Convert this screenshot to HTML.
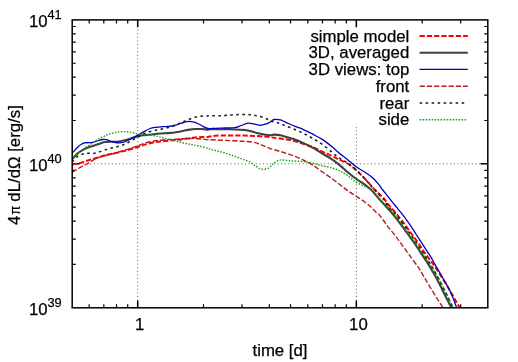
<!DOCTYPE html><html><head><meta charset="utf-8"><title>plot</title><style>
html,body{margin:0;padding:0;background:#fff;}svg{display:block;}text{font-family:"Liberation Sans",sans-serif;fill:#000;stroke:#000;stroke-width:0.25px;}
</style></head><body>
<svg width="518" height="362" viewBox="0 0 518 362">
<rect width="518" height="362" fill="#fff"/>
<defs><clipPath id="cp"><rect x="72.2" y="19.9" width="415.6" height="287.9"/></clipPath></defs>
<g stroke="#5a5a5a" stroke-width="1" stroke-dasharray="1,2.6" fill="none"><path d="M72.2,163.8 H487.8"/><path d="M137.7,307.8 V19.9"/><path d="M356.4,307.8 V127.0"/></g>
<g stroke="#000" fill="none"><path stroke-width="1.2" d="M89.19,307.8 v-3.6 M89.19,19.9 v3.6 M103.83,307.8 v-3.6 M103.83,19.9 v3.6 M116.51,307.8 v-3.6 M116.51,19.9 v3.6 M127.70,307.8 v-3.6 M127.70,19.9 v3.6 M203.52,307.8 v-3.6 M203.52,19.9 v3.6 M242.02,307.8 v-3.6 M242.02,19.9 v3.6 M269.34,307.8 v-3.6 M269.34,19.9 v3.6 M290.53,307.8 v-3.6 M290.53,19.9 v3.6 M307.84,307.8 v-3.6 M307.84,19.9 v3.6 M322.48,307.8 v-3.6 M322.48,19.9 v3.6 M335.16,307.8 v-3.6 M335.16,19.9 v3.6 M346.35,307.8 v-3.6 M346.35,19.9 v3.6 M422.17,307.8 v-3.6 M422.17,19.9 v3.6 M460.67,307.8 v-3.6 M460.67,19.9 v3.6 M72.2,264.47 h3.6 M487.8,264.47 h-3.6 M72.2,239.12 h3.6 M487.8,239.12 h-3.6 M72.2,221.13 h3.6 M487.8,221.13 h-3.6 M72.2,207.18 h3.6 M487.8,207.18 h-3.6 M72.2,195.79 h3.6 M487.8,195.79 h-3.6 M72.2,186.15 h3.6 M487.8,186.15 h-3.6 M72.2,177.80 h3.6 M487.8,177.80 h-3.6 M72.2,170.44 h3.6 M487.8,170.44 h-3.6 M72.2,120.52 h3.6 M487.8,120.52 h-3.6 M72.2,95.17 h3.6 M487.8,95.17 h-3.6 M72.2,77.18 h3.6 M487.8,77.18 h-3.6 M72.2,63.23 h3.6 M487.8,63.23 h-3.6 M72.2,51.84 h3.6 M487.8,51.84 h-3.6 M72.2,42.20 h3.6 M487.8,42.20 h-3.6 M72.2,33.85 h3.6 M487.8,33.85 h-3.6 M72.2,26.49 h3.6 M487.8,26.49 h-3.6 "/><path stroke-width="1.5" d="M137.70,307.8 v-7.4 M137.70,19.9 v7.4 M356.35,307.8 v-7.4 M356.35,19.9 v7.4 M72.2,163.85 h7.4 M487.8,163.85 h-7.4 "/></g>
<g fill="none" clip-path="url(#cp)" stroke-linejoin="round">
<path d="M72.00,164.50 C72.22,164.47 72.12,164.50 73.30,164.30 C74.48,164.10 77.12,163.80 79.10,163.30 C81.08,162.80 83.17,161.93 85.20,161.30 C87.23,160.67 89.28,160.10 91.30,159.50 C93.32,158.90 95.28,158.33 97.30,157.70 C99.32,157.07 101.37,156.28 103.40,155.70 C105.43,155.12 107.47,154.63 109.50,154.20 C111.53,153.77 113.58,153.53 115.60,153.10 C117.62,152.67 119.58,152.10 121.60,151.60 C123.62,151.10 125.67,150.65 127.70,150.10 C129.73,149.55 131.75,148.93 133.80,148.30 C135.85,147.67 138.03,146.95 140.00,146.30 C141.97,145.65 143.40,145.03 145.60,144.40 C147.80,143.77 150.67,143.00 153.20,142.50 C155.73,142.00 158.27,141.70 160.80,141.40 C163.33,141.10 165.87,140.95 168.40,140.70 C170.93,140.45 173.47,140.15 176.00,139.90 C178.53,139.65 181.08,139.50 183.60,139.20 C186.12,138.90 188.58,138.43 191.10,138.10 C193.62,137.77 195.88,137.40 198.70,137.20 C201.52,137.00 205.17,137.15 208.00,136.90 C210.83,136.65 212.82,135.93 215.70,135.70 C218.58,135.47 222.08,135.53 225.30,135.50 C228.52,135.47 231.77,135.48 235.00,135.50 C238.23,135.52 241.48,135.53 244.70,135.60 C247.92,135.67 251.08,135.75 254.30,135.90 C257.52,136.05 261.38,136.30 264.00,136.50 C266.62,136.70 268.33,136.90 270.00,137.10 C271.67,137.30 271.72,137.38 274.00,137.70 C276.28,138.02 280.48,138.47 283.70,139.00 C286.92,139.53 290.08,140.10 293.30,140.90 C296.52,141.70 299.77,142.77 303.00,143.80 C306.23,144.83 309.48,145.80 312.70,147.10 C315.92,148.40 319.08,150.12 322.30,151.60 C325.52,153.08 329.10,154.62 332.00,156.00 C334.90,157.38 337.08,158.65 339.70,159.90 C342.32,161.15 344.92,161.77 347.70,163.50 C350.48,165.23 353.50,167.72 356.40,170.30 C359.30,172.88 362.35,176.10 365.10,179.00 C367.85,181.90 370.63,185.28 372.90,187.70 C375.17,190.12 376.77,191.57 378.70,193.50 C380.63,195.43 382.83,197.38 384.50,199.30 C386.17,201.22 386.87,202.77 388.70,205.00 C390.53,207.23 393.08,209.80 395.50,212.70 C397.92,215.60 400.63,219.02 403.20,222.40 C405.77,225.78 408.32,229.45 410.90,233.00 C413.48,236.55 416.12,239.98 418.70,243.70 C421.28,247.42 423.98,251.90 426.40,255.30 C428.82,258.70 430.95,260.97 433.20,264.10 C435.45,267.23 437.68,270.65 439.90,274.10 C442.12,277.55 444.43,281.35 446.50,284.80 C448.57,288.25 450.65,291.90 452.30,294.80 C453.95,297.70 455.22,300.13 456.40,302.20 C457.58,304.27 458.73,306.07 459.40,307.20 C460.07,308.33 460.23,308.70 460.40,309.00" stroke="#ff0000" stroke-width="2.00" stroke-dasharray="5.2,2.05"/>
<path d="M72.00,159.30 C72.22,159.08 72.37,158.98 73.30,158.00 C74.23,157.02 76.13,154.68 77.60,153.40 C79.07,152.12 80.58,151.20 82.10,150.30 C83.62,149.40 84.92,148.72 86.70,148.00 C88.48,147.28 90.52,146.77 92.80,146.00 C95.08,145.23 98.38,144.07 100.40,143.40 C102.42,142.73 103.13,142.28 104.90,142.00 C106.67,141.72 109.22,141.75 111.00,141.70 C112.78,141.65 113.83,141.82 115.60,141.70 C117.37,141.58 119.58,141.38 121.60,141.00 C123.62,140.62 125.67,139.98 127.70,139.40 C129.73,138.82 131.75,138.13 133.80,137.50 C135.85,136.87 138.03,136.00 140.00,135.60 C141.97,135.20 143.40,135.33 145.60,135.10 C147.80,134.87 150.67,134.47 153.20,134.20 C155.73,133.93 158.27,133.68 160.80,133.50 C163.33,133.32 165.87,133.30 168.40,133.10 C170.93,132.90 173.47,132.68 176.00,132.30 C178.53,131.92 181.33,131.25 183.60,130.80 C185.87,130.35 187.58,129.90 189.60,129.60 C191.62,129.30 193.67,129.10 195.70,129.00 C197.73,128.90 199.75,128.90 201.80,129.00 C203.85,129.10 206.63,129.55 208.00,129.60 C209.37,129.65 208.00,129.35 210.00,129.30 C212.00,129.25 216.67,129.30 220.00,129.30 C223.33,129.30 226.67,129.23 230.00,129.30 C233.33,129.37 237.00,129.50 240.00,129.70 C243.00,129.90 245.33,130.00 248.00,130.50 C250.67,131.00 253.33,132.03 256.00,132.70 C258.67,133.37 261.67,134.07 264.00,134.50 C266.33,134.93 268.33,135.28 270.00,135.30 C271.67,135.32 272.37,134.63 274.00,134.60 C275.63,134.57 277.87,134.75 279.80,135.10 C281.73,135.45 283.35,136.05 285.60,136.70 C287.85,137.35 290.40,137.97 293.30,139.00 C296.20,140.03 299.77,141.45 303.00,142.90 C306.23,144.35 309.48,145.93 312.70,147.70 C315.92,149.47 319.08,151.57 322.30,153.50 C325.52,155.43 329.10,157.37 332.00,159.30 C334.90,161.23 337.08,162.95 339.70,165.10 C342.32,167.25 344.92,169.88 347.70,172.20 C350.48,174.52 353.50,176.90 356.40,179.00 C359.30,181.10 362.68,183.03 365.10,184.80 C367.52,186.57 368.97,187.73 370.90,189.60 C372.83,191.47 374.77,193.83 376.70,196.00 C378.63,198.17 381.15,201.10 382.50,202.60 C383.85,204.10 383.28,203.32 384.80,205.00 C386.32,206.68 389.18,209.80 391.60,212.70 C394.02,215.60 396.72,219.02 399.30,222.40 C401.88,225.78 404.52,229.45 407.10,233.00 C409.68,236.55 412.23,239.98 414.80,243.70 C417.37,247.42 420.25,251.90 422.50,255.30 C424.75,258.70 426.37,260.97 428.30,264.10 C430.23,267.23 432.17,270.65 434.10,274.10 C436.03,277.55 438.12,281.35 439.90,284.80 C441.68,288.25 443.28,291.75 444.80,294.80 C446.32,297.85 447.95,301.03 449.00,303.10 C450.05,305.17 450.60,306.22 451.10,307.20 C451.60,308.18 451.85,308.70 452.00,309.00" stroke="#404040" stroke-width="2.10"/>
<path d="M72.00,153.30 C72.22,153.07 72.37,152.90 73.30,151.90 C74.23,150.90 76.25,148.57 77.60,147.30 C78.95,146.03 80.27,145.03 81.40,144.30 C82.53,143.57 83.27,143.17 84.40,142.90 C85.53,142.63 86.80,142.80 88.20,142.70 C89.60,142.60 91.28,142.58 92.80,142.30 C94.32,142.02 95.67,141.47 97.30,141.00 C98.93,140.53 101.08,139.72 102.60,139.50 C104.12,139.28 105.00,139.40 106.40,139.70 C107.80,140.00 109.47,140.83 111.00,141.30 C112.53,141.77 114.08,142.25 115.60,142.50 C117.12,142.75 118.58,142.88 120.10,142.80 C121.62,142.72 122.93,142.63 124.70,142.00 C126.47,141.37 128.68,140.02 130.70,139.00 C132.72,137.98 135.25,136.73 136.80,135.90 C138.35,135.07 138.78,134.72 140.00,134.00 C141.22,133.28 142.42,132.52 144.10,131.60 C145.78,130.68 148.08,129.22 150.10,128.50 C152.12,127.78 154.17,127.60 156.20,127.30 C158.23,127.00 160.27,126.87 162.30,126.70 C164.33,126.53 166.38,126.50 168.40,126.30 C170.42,126.10 172.63,125.88 174.40,125.50 C176.17,125.12 177.47,124.50 179.00,124.00 C180.53,123.50 181.95,122.93 183.60,122.50 C185.25,122.07 187.13,121.45 188.90,121.40 C190.67,121.35 192.57,121.77 194.20,122.20 C195.83,122.63 197.18,123.27 198.70,124.00 C200.22,124.73 201.75,125.85 203.30,126.60 C204.85,127.35 206.55,128.18 208.00,128.50 C209.45,128.82 210.00,128.57 212.00,128.50 C214.00,128.43 217.83,128.18 220.00,128.10 C222.17,128.02 222.48,128.07 225.00,128.00 C227.52,127.93 232.40,128.12 235.10,127.70 C237.80,127.28 239.05,126.25 241.20,125.50 C243.35,124.75 246.20,123.52 248.00,123.20 C249.80,122.88 250.53,123.37 252.00,123.60 C253.47,123.83 255.33,124.32 256.80,124.60 C258.27,124.88 259.35,125.37 260.80,125.30 C262.25,125.23 264.03,124.70 265.50,124.20 C266.97,123.70 268.13,123.08 269.60,122.30 C271.07,121.52 272.50,119.90 274.30,119.50 C276.10,119.10 278.48,119.43 280.40,119.90 C282.32,120.37 283.37,121.22 285.80,122.30 C288.23,123.38 292.13,125.23 295.00,126.40 C297.87,127.57 300.05,128.00 303.00,129.30 C305.95,130.60 309.48,132.52 312.70,134.20 C315.92,135.88 319.08,137.32 322.30,139.40 C325.52,141.48 329.10,144.35 332.00,146.70 C334.90,149.05 337.08,151.33 339.70,153.50 C342.32,155.67 344.92,157.45 347.70,159.70 C350.48,161.95 353.50,164.92 356.40,167.00 C359.30,169.08 362.35,170.37 365.10,172.20 C367.85,174.03 370.63,175.97 372.90,178.00 C375.17,180.03 377.05,182.40 378.70,184.40 C380.35,186.40 381.20,187.92 382.80,190.00 C384.40,192.08 386.47,194.60 388.30,196.90 C390.13,199.20 391.97,201.50 393.80,203.80 C395.63,206.10 397.45,208.40 399.30,210.70 C401.15,213.00 403.05,215.15 404.90,217.60 C406.75,220.05 408.57,222.67 410.40,225.40 C412.23,228.13 414.40,231.67 415.90,234.00 C417.40,236.33 418.30,237.72 419.40,239.40 C420.50,241.08 420.68,241.30 422.50,244.10 C424.32,246.90 428.23,252.85 430.30,256.20 C432.37,259.55 433.03,260.95 434.90,264.20 C436.77,267.45 439.30,271.85 441.50,275.70 C443.70,279.55 446.17,283.57 448.10,287.30 C450.03,291.03 451.72,294.78 453.10,298.10 C454.48,301.42 455.73,305.38 456.40,307.20 C457.07,309.02 456.98,308.70 457.10,309.00" stroke="#0000c0" stroke-width="1.30"/>
<path d="M72.00,172.20 C72.22,172.10 72.37,172.15 73.30,171.60 C74.23,171.05 76.13,169.78 77.60,168.90 C79.07,168.02 80.58,167.12 82.10,166.30 C83.62,165.48 85.17,164.83 86.70,164.00 C88.23,163.17 89.78,162.18 91.30,161.30 C92.82,160.42 94.28,159.43 95.80,158.70 C97.32,157.97 98.88,157.40 100.40,156.90 C101.92,156.40 103.13,156.15 104.90,155.70 C106.67,155.25 109.22,154.65 111.00,154.20 C112.78,153.75 113.83,153.50 115.60,153.00 C117.37,152.50 119.58,151.80 121.60,151.20 C123.62,150.60 125.67,150.07 127.70,149.40 C129.73,148.73 131.75,147.93 133.80,147.20 C135.85,146.47 138.03,145.72 140.00,145.00 C141.97,144.28 143.40,143.52 145.60,142.90 C147.80,142.28 150.67,141.75 153.20,141.30 C155.73,140.85 158.27,140.48 160.80,140.20 C163.33,139.92 165.87,139.77 168.40,139.60 C170.93,139.43 173.47,139.35 176.00,139.20 C178.53,139.05 181.08,138.83 183.60,138.70 C186.12,138.57 188.58,138.40 191.10,138.40 C193.62,138.40 195.88,138.45 198.70,138.70 C201.52,138.95 206.12,139.72 208.00,139.90 C209.88,140.08 208.00,139.75 210.00,139.80 C212.00,139.85 216.67,140.07 220.00,140.20 C223.33,140.33 226.67,140.43 230.00,140.60 C233.33,140.77 237.55,141.07 240.00,141.20 C242.45,141.33 242.63,141.27 244.70,141.40 C246.77,141.53 250.22,141.65 252.40,142.00 C254.58,142.35 256.28,143.02 257.80,143.50 C259.32,143.98 260.22,144.38 261.50,144.90 C262.78,145.42 264.12,146.02 265.50,146.60 C266.88,147.18 268.38,147.88 269.80,148.40 C271.22,148.92 271.68,149.02 274.00,149.70 C276.32,150.38 280.48,151.48 283.70,152.50 C286.92,153.52 290.08,154.57 293.30,155.80 C296.52,157.03 299.77,158.35 303.00,159.90 C306.23,161.45 309.48,163.10 312.70,165.10 C315.92,167.10 319.08,169.65 322.30,171.90 C325.52,174.15 329.05,176.45 332.00,178.60 C334.95,180.75 337.38,182.80 340.00,184.80 C342.62,186.80 344.97,188.67 347.70,190.60 C350.43,192.53 353.50,194.47 356.40,196.40 C359.30,198.33 362.68,200.43 365.10,202.20 C367.52,203.97 368.97,205.23 370.90,207.00 C372.83,208.77 375.18,211.37 376.70,212.80 C378.22,214.23 378.17,213.35 380.00,215.60 C381.83,217.85 385.12,222.92 387.70,226.30 C390.28,229.68 392.92,232.52 395.50,235.90 C398.08,239.28 400.63,243.05 403.20,246.60 C405.77,250.15 408.32,253.67 410.90,257.20 C413.48,260.73 416.85,265.10 418.70,267.80 C420.55,270.50 420.82,271.38 422.00,273.40 C423.18,275.42 424.20,277.20 425.80,279.90 C427.40,282.60 429.67,286.42 431.60,289.60 C433.53,292.78 435.57,296.08 437.40,299.00 C439.23,301.92 441.60,305.52 442.60,307.10 C443.60,308.68 443.27,308.27 443.40,308.50" stroke="#b81e1e" stroke-width="1.40" stroke-dasharray="5.2,2.05"/>
<path d="M72.00,161.80 C72.22,161.62 72.37,161.60 73.30,160.70 C74.23,159.80 76.13,157.48 77.60,156.40 C79.07,155.32 80.58,154.73 82.10,154.20 C83.62,153.67 84.92,153.33 86.70,153.20 C88.48,153.07 91.03,153.50 92.80,153.40 C94.57,153.30 95.53,153.10 97.30,152.60 C99.07,152.10 101.37,151.08 103.40,150.40 C105.43,149.72 107.47,149.07 109.50,148.50 C111.53,147.93 113.58,147.50 115.60,147.00 C117.62,146.50 119.58,146.20 121.60,145.50 C123.62,144.80 125.67,143.82 127.70,142.80 C129.73,141.78 131.75,140.55 133.80,139.40 C135.85,138.25 138.03,136.95 140.00,135.90 C141.97,134.85 143.40,133.95 145.60,133.10 C147.80,132.25 150.67,131.43 153.20,130.80 C155.73,130.17 158.27,129.85 160.80,129.30 C163.33,128.75 166.13,128.13 168.40,127.50 C170.67,126.87 172.38,126.27 174.40,125.50 C176.42,124.73 178.47,123.78 180.50,122.90 C182.53,122.02 184.57,121.03 186.60,120.20 C188.63,119.37 190.68,118.53 192.70,117.90 C194.72,117.27 196.68,116.73 198.70,116.40 C200.72,116.07 203.25,115.98 204.80,115.90 C206.35,115.82 207.13,115.93 208.00,115.90 C208.87,115.87 208.00,115.73 210.00,115.70 C212.00,115.67 216.67,115.80 220.00,115.70 C223.33,115.60 226.67,115.30 230.00,115.10 C233.33,114.90 236.67,114.57 240.00,114.50 C243.33,114.43 247.00,114.43 250.00,114.70 C253.00,114.97 255.33,115.47 258.00,116.10 C260.67,116.73 264.00,117.68 266.00,118.50 C268.00,119.32 268.18,120.32 270.00,121.00 C271.82,121.68 274.62,121.92 276.90,122.60 C279.18,123.28 280.97,124.07 283.70,125.10 C286.43,126.13 290.08,127.45 293.30,128.80 C296.52,130.15 299.77,131.60 303.00,133.20 C306.23,134.80 309.48,136.53 312.70,138.40 C315.92,140.27 319.08,142.10 322.30,144.40 C325.52,146.70 329.10,149.88 332.00,152.20 C334.90,154.52 337.08,156.50 339.70,158.30 C342.32,160.10 344.92,161.03 347.70,163.00 C350.48,164.97 353.50,167.43 356.40,170.10 C359.30,172.77 362.35,176.03 365.10,179.00 C367.85,181.97 370.63,185.38 372.90,187.90 C375.17,190.42 376.77,192.03 378.70,194.10 C380.63,196.17 383.07,198.48 384.50,200.30 C385.93,202.12 385.63,202.83 387.30,205.00 C388.97,207.17 392.02,210.30 394.50,213.30 C396.98,216.30 399.72,219.77 402.20,223.00 C404.68,226.23 406.95,229.28 409.40,232.70 C411.85,236.12 414.43,239.80 416.90,243.50 C419.37,247.20 421.92,251.38 424.20,254.90 C426.48,258.42 428.62,261.40 430.60,264.60 C432.58,267.80 434.23,270.73 436.10,274.10 C437.97,277.47 440.02,281.35 441.80,284.80 C443.58,288.25 445.30,291.75 446.80,294.80 C448.30,297.85 449.78,301.03 450.80,303.10 C451.82,305.17 452.40,306.22 452.90,307.20 C453.40,308.18 453.65,308.70 453.80,309.00" stroke="#1a1a1a" stroke-width="1.55" stroke-dasharray="2.6,3.4"/>
<path d="M72.00,159.20 C72.22,158.98 72.12,159.02 73.30,157.90 C74.48,156.78 77.12,154.18 79.10,152.50 C81.08,150.82 83.17,149.25 85.20,147.80 C87.23,146.35 89.28,145.15 91.30,143.80 C93.32,142.45 95.28,140.88 97.30,139.70 C99.32,138.52 101.37,137.65 103.40,136.70 C105.43,135.75 107.47,134.70 109.50,134.00 C111.53,133.30 113.58,132.88 115.60,132.50 C117.62,132.12 119.58,131.82 121.60,131.70 C123.62,131.58 125.67,131.60 127.70,131.80 C129.73,132.00 131.75,132.45 133.80,132.90 C135.85,133.35 138.03,134.22 140.00,134.50 C141.97,134.78 143.40,134.45 145.60,134.60 C147.80,134.75 150.67,134.97 153.20,135.40 C155.73,135.83 158.27,136.57 160.80,137.20 C163.33,137.83 165.87,138.55 168.40,139.20 C170.93,139.85 173.47,140.47 176.00,141.10 C178.53,141.73 181.08,142.43 183.60,143.00 C186.12,143.57 188.58,144.00 191.10,144.50 C193.62,145.00 195.88,145.37 198.70,146.00 C201.52,146.63 206.12,147.77 208.00,148.30 C209.88,148.83 208.00,148.65 210.00,149.20 C212.00,149.75 216.67,150.70 220.00,151.60 C223.33,152.50 226.67,153.50 230.00,154.60 C233.33,155.70 236.67,156.93 240.00,158.20 C243.33,159.47 247.33,160.85 250.00,162.20 C252.67,163.55 254.00,165.12 256.00,166.30 C258.00,167.48 260.00,168.97 262.00,169.30 C264.00,169.63 266.33,169.02 268.00,168.30 C269.67,167.58 271.00,165.85 272.00,165.00 C273.00,164.15 273.02,163.92 274.00,163.20 C274.98,162.48 276.62,161.25 277.90,160.70 C279.18,160.15 279.77,159.90 281.70,159.90 C283.63,159.90 286.92,160.48 289.50,160.70 C292.08,160.92 294.63,161.02 297.20,161.20 C299.77,161.38 302.32,161.47 304.90,161.80 C307.48,162.13 309.80,162.55 312.70,163.20 C315.60,163.85 319.08,164.90 322.30,165.70 C325.52,166.50 329.10,167.13 332.00,168.00 C334.90,168.87 337.08,169.63 339.70,170.90 C342.32,172.17 344.92,173.70 347.70,175.60 C350.48,177.50 353.50,180.45 356.40,182.30 C359.30,184.15 362.68,185.42 365.10,186.70 C367.52,187.98 368.97,188.45 370.90,190.00 C372.83,191.55 374.77,193.90 376.70,196.00 C378.63,198.10 380.92,201.10 382.50,202.60 C384.08,204.10 384.45,203.32 386.20,205.00 C387.95,206.68 390.62,209.80 393.00,212.70 C395.38,215.60 397.97,219.02 400.50,222.40 C403.03,225.78 405.62,229.45 408.20,233.00 C410.78,236.55 413.42,240.05 416.00,243.70 C418.58,247.35 421.30,251.42 423.70,254.90 C426.10,258.38 428.32,261.40 430.40,264.60 C432.48,267.80 434.27,270.73 436.20,274.10 C438.13,277.47 440.20,281.35 442.00,284.80 C443.80,288.25 445.50,291.75 447.00,294.80 C448.50,297.85 449.98,301.03 451.00,303.10 C452.02,305.17 452.60,306.22 453.10,307.20 C453.60,308.18 453.85,308.70 454.00,309.00" stroke="#10a010" stroke-width="1.40" stroke-dasharray="1.5,1.5"/>
</g>
<g stroke="#000" stroke-width="1.5" fill="none"><rect x="72.2" y="19.9" width="415.6" height="287.9"/></g>
<g id="txt" style="filter:grayscale(1)">
<text x="409.3" y="41.5" font-size="16.8" text-anchor="end">simple model</text>
<text x="409.3" y="58.3" font-size="16.8" text-anchor="end">3D, averaged</text>
<text x="409.3" y="75.0" font-size="16.8" text-anchor="end">3D views: top</text>
<text x="409.3" y="91.9" font-size="16.8" text-anchor="end">front</text>
<text x="409.3" y="108.5" font-size="16.8" text-anchor="end">rear</text>
<text x="409.3" y="125.3" font-size="16.8" text-anchor="end">side</text>
<text x="29.0" y="27.4" font-size="16.8">10<tspan dy="-8.9" dx="-0.2" font-size="12.8">41</tspan></text>
<text x="29.0" y="171.4" font-size="16.8">10<tspan dy="-8.9" dx="-0.2" font-size="12.8">40</tspan></text>
<text x="29.0" y="315.4" font-size="16.8">10<tspan dy="-8.9" dx="-0.2" font-size="12.8">39</tspan></text>
<text x="139.7" y="330.3" font-size="16.8" text-anchor="middle">1</text>
<text x="358.4" y="330.3" font-size="16.8" text-anchor="middle">10</text>
<text x="280" y="355.8" font-size="16.8" text-anchor="middle">time [d]</text>
<g transform="translate(20.0,165.0) rotate(-90)" font-size="16.8">
<text x="-59.9" y="0">4</text>
<text transform="translate(-49.7,0) scale(0.78,0.92)" x="0" y="0">π</text>
<text x="-36.7" y="0">dL/dΩ [erg/s]</text>
</g>
</g>
<path d="M419.6,35.9 H467.8" stroke="#ff0000" stroke-width="2.00" stroke-dasharray="5.2,2.05" fill="none"/>
<path d="M419.6,52.7 H467.8" stroke="#404040" stroke-width="2.10" fill="none"/>
<path d="M419.6,69.4 H467.8" stroke="#0000c0" stroke-width="1.30" fill="none"/>
<path d="M419.6,86.3 H467.8" stroke="#b81e1e" stroke-width="1.40" stroke-dasharray="5.2,2.05" fill="none"/>
<path d="M419.6,102.9 H464.6" stroke="#1a1a1a" stroke-width="1.55" stroke-dasharray="2.6,3.4" fill="none"/>
<path d="M419.6,119.7 H466.3" stroke="#10a010" stroke-width="1.40" stroke-dasharray="1.5,1.5" fill="none"/>
</svg></body></html>
